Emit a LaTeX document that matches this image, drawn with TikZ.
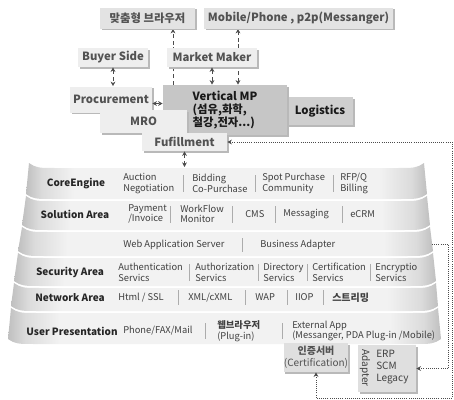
\documentclass[tikz,border=0pt]{standalone}
\usepackage{fontspec}
\setmainfont{Noto Sans CJK KR}
\usetikzlibrary{arrows.meta,shadows,backgrounds}

\pgfdeclarehorizontalshading{bandshade}{100bp}{color(0bp)=(gray!50); color(25bp)=(gray!50); color(27bp)=(gray!28); color(31bp)=(gray!10); color(69bp)=(gray!10); color(73bp)=(gray!28); color(75bp)=(gray!50); color(100bp)=(gray!50)}

\tikzset{
  lightbox/.style={fill=gray!13, inner sep=0pt, text=black!68,
    font=\fontsize{8.5}{10}\selectfont\bfseries,
    drop shadow={shadow xshift=1.2pt, shadow yshift=-1.2pt, fill=gray!55, opacity=1}},
  topbox/.style={lightbox, fill=gray!22},
  darkbox/.style={lightbox, fill=gray!45, text=black!90},
  lowbox/.style={lightbox, fill=gray!25},
  layername/.style={font=\fontsize{7.5}{8}\selectfont\bfseries, text=black!85, inner sep=0pt},
  layeritem/.style={anchor=west, align=left, font=\fontsize{7}{8}\selectfont, text=black!75, inner sep=0pt},
  sepbar/.style={gray!65, line width=0.4pt},
  link/.style={densely dashed, black!70, line width=0.5pt},
  backlink/.style={densely dotted, black!70, line width=0.6pt},
}

\begin{document}
\begin{tikzpicture}[x=0.75pt,y=0.75pt,yscale=-1,xscale=1,>={Stealth[length=3.5pt,width=3.5pt]}]
\useasboundingbox (0,0) rectangle (454,400);

%Shape: layer bands
\foreach \yt/\yb/\lt/\lb/\rt/\rb in {168/199/29/26/424/427, 201/230/26/22/427/430, 232/256/22/18/430/433, 258/286/18/14/433/436, 288/311/14/11/436/438, 313/344/11/8/438/441}
  \shade[shading=bandshade] (\lt,\yt-5) .. controls (\lt+8,\yt) .. (\lt+30,\yt) -- (\rt-30,\yt) .. controls (\rt-8,\yt) .. (\rt,\yt-5) -- (\rb,\yb-5) .. controls (\rb-8,\yb) .. (\rb-30,\yb) -- (\lb+30,\yb) .. controls (\lb+8,\yb) .. (\lb,\yb-5) -- cycle;

% CoreEngine
\node[layername] (core) at (76,183.5) {CoreEngine};
\node[layeritem] (auction) at (123,183.5) {Auction\\Negotiation};
\node[layeritem] (bidding) at (192,183.5) {Bidding\\Co-Purchase};
\node[layeritem] (spot) at (262,183.5) {Spot Purchase\\Community};
\node[layeritem] (rfpq) at (340,183.5) {RFP/Q\\Billing};
\foreach \x in {183,255,333} \draw[sepbar] (\x,175) -- (\x,192);

% Solution Area
\node[layername] (solution) at (75,214) {Solution Area};
\node[layeritem] (payment) at (128,214) {Payment\\/Invoice};
\node[layeritem] (workflow) at (180,214) {WorkFlow\\Monitor};
\node[layeritem] (cms) at (245,214) {CMS};
\node[layeritem] (messaging) at (283,214) {Messaging};
\node[layeritem] (ecrm) at (350,214) {eCRM};
\foreach \x in {170,232,275,342} \draw[sepbar] (\x,206) -- (\x,223);

% Web application layer
\node[layeritem] (was) at (123,245) {Web Application Server};
\node[layeritem] (badapter) at (260,245) {Business Adapter};
\draw[sepbar] (242,238) -- (242,252);

% Security Area
\node[layername] (security) at (70,272.5) {Security Area};
\node[layeritem] (authen) at (118,272.5) {Authentication\\Servics};
\node[layeritem] (author) at (195,272.5) {Authorization\\Servics};
\node[layeritem] (directory) at (263,272.5) {Directory\\Servics};
\node[layeritem] (certif) at (312,272.5) {Certification\\Servics};
\node[layeritem] (encrypt) at (375,272.5) {Encryptio\\Servics};
\foreach \x in {189,258,307,370} \draw[sepbar] (\x,264) -- (\x,281);

% Network Area
\node[layername] (network) at (70,297.5) {Network Area};
\node[layeritem] (html) at (118,297.5) {Html / SSL};
\node[layeritem] (xml) at (188,297.5) {XML/cXML};
\node[layeritem] (wap) at (255,297.5) {WAP};
\node[layeritem] (iiop) at (295,297.5) {IIOP};
\node[layeritem] (stream) at (332,297.5) {\fontsize{7.5}{8}\selectfont\bfseries 스트리밍};
\foreach \x in {178,245,287,323} \draw[sepbar] (\x,290) -- (\x,305);

% User Presentation
\node[layername] (userpres) at (72,331) {User Presentation};
\node[layeritem] (phone) at (123,331) {Phone/FAX/Mail};
\node[layeritem] (webbrowser) at (217,331) {{\bfseries 웹브라우저}\\(Plug-in)};
\node[layeritem] (extapp) at (292,331) {External App\\(Messanger, PDA Plug-in /Mobile)};
\foreach \x in {205,282} \draw[sepbar] (\x,323) -- (\x,339);

% Boxes
\node[topbox, minimum width=71.25pt, minimum height=15.75pt] (browser) at (147.5,18) {맞춤형 브라우저};
\node[topbox, minimum width=141.75pt, minimum height=15.75pt] (mobile) at (298.5,18) {Mobile/Phone , p2p(Messanger)};
\node[lightbox, minimum width=52.5pt, minimum height=14.25pt] (buyer) at (113,57.5) {Buyer Side};
\node[lightbox, minimum width=67.5pt, minimum height=14.25pt] (maker) at (212,57.5) {Market Maker};
\node[lightbox, minimum width=61.5pt, minimum height=19.5pt] (procure) at (111,99.5) {Procurement};
\node[darkbox, fill=gray!38, minimum width=49.5pt, minimum height=21pt] (logis) at (320,111) {Logistics};
\node[darkbox, align=left, minimum width=93pt, minimum height=37.5pt, font=\fontsize{8.5}{9.5}\selectfont\bfseries] (vmp) at (225,110) {Vertical MP\\(섬유,화학,\\철강,전자...)};
\node[lightbox, minimum width=65.25pt, minimum height=17.25pt] (mro) at (143.5,121.5) {MRO};
\node[lightbox, minimum width=63.75pt, minimum height=13.5pt] (fulfil) at (184.5,142) {Fufillment};
\node[lowbox, align=center, minimum width=46.5pt, minimum height=21.75pt, font=\fontsize{7.5}{9}\selectfont] (cert) at (316,357.5) {\textbf{인증서버}\\(Certification)};
\node[lowbox, minimum width=43.5pt, minimum height=35.25pt] (adapter) at (387,368.5) {};
\node[rotate=-90, inner sep=0pt, font=\fontsize{7.5}{9}\selectfont, text=black!75] (adaptxt) at (365,368) {Adapter};
\node[anchor=west, align=left, inner sep=0pt, font=\fontsize{7.5}{9}\selectfont, text=black!75] (legacy) at (376,367.5) {ERP\\SCM\\Legacy};

% Links
\coordinate (upA) at (173,0);
\coordinate (upB) at (238,0);
\coordinate (coreTop) at (0,167);
\coordinate (rail) at (452,398);
\coordinate (wasR) at (432,244);
\coordinate (railB) at (448,0);
\begin{scope}[on background layer]
\draw[link,->] (vmp.north -| upA) -- (browser.south -| upA);
\draw[link,<->] (vmp.north -| upB) -- (mobile.south -| upB);
\end{scope}
\draw[link,<->] (buyer.south) -- (buyer.south |- procure.north);
\draw[link,<->] (maker.south) -- (maker.south |- vmp.north);
\draw[link,<->] ([yshift=3pt]procure.east) -- ([yshift=3pt]procure.east -| vmp.west);
\draw[link,<->] (fulfil.south) -- (fulfil.south |- coreTop);
\draw[backlink,<->] (fulfil.east) -| (rail) -| (cert.south);
\draw[backlink,->] (wasR) -| (adapter.east -| railB) -- (adapter.east);
\end{tikzpicture}
\end{document}
